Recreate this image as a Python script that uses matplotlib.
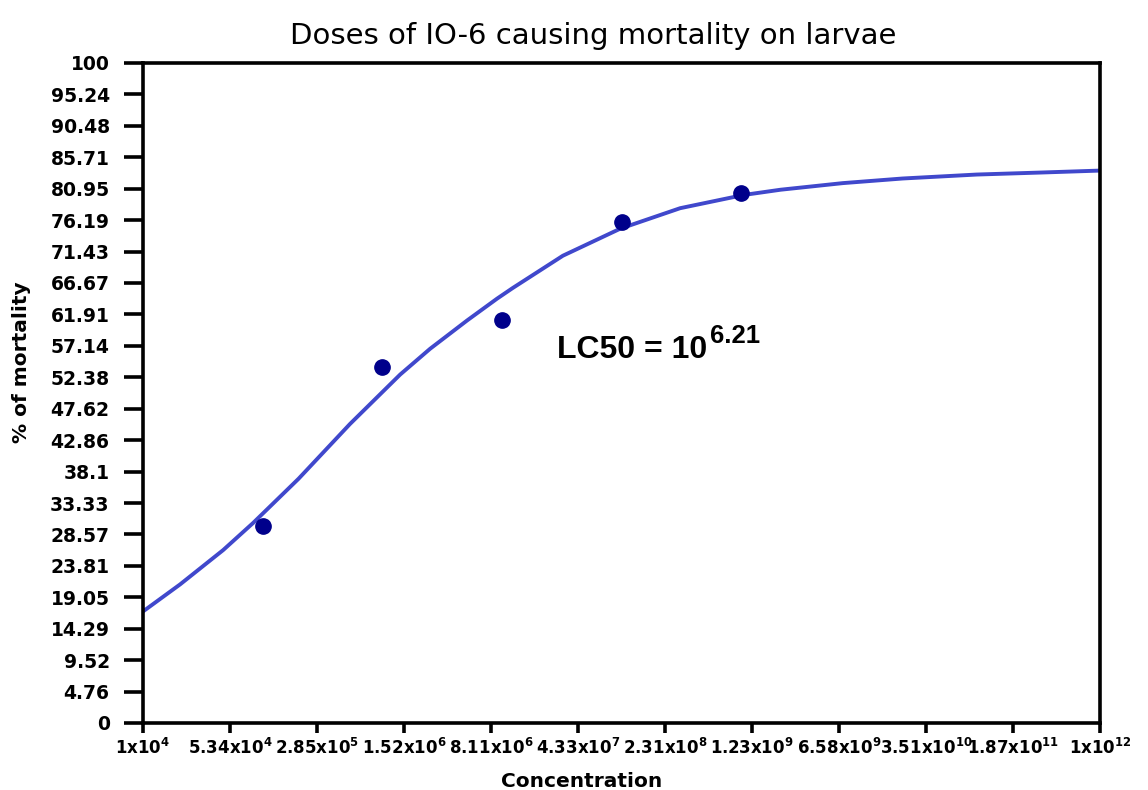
import numpy as np
import matplotlib
matplotlib.use("Agg")
import matplotlib.pyplot as plt
from matplotlib.ticker import NullLocator

# observed mortality (%) at each concentration
conc = [1e5, 1e6, 1e7, 1e8, 1e9]
mortality = [29.8, 53.9, 61.1, 75.9, 80.3]

# fitted dose-response curve (log10 of concentration)
curve_log_conc = [4.00, 4.31, 4.67, 4.92, 5.30, 5.73, 6.15, 6.40, 6.71, 6.96,
                  7.09, 7.51, 7.99, 8.49, 9.02, 9.33, 9.85, 10.35, 10.97, 11.50, 12.00]
curve_mortality = [16.9, 21.0, 26.2, 30.3, 37.0, 45.3, 52.8, 56.7, 61.0, 64.3,
                   65.9, 70.8, 74.9, 78.0, 80.0, 80.8, 81.8, 82.5, 83.1, 83.4, 83.7]

# axis ticks
x_mant = ['1', '5.34', '2.85', '1.52', '8.11', '4.33', '2.31', '1.23', '6.58', '3.51', '1.87', '1']
x_exp = [4, 4, 5, 6, 6, 7, 8, 9, 9, 10, 11, 12]
y_ticks = ['0', '4.76', '9.52', '14.29', '19.05', '23.81', '28.57', '33.33', '38.1', '42.86',
           '47.62', '52.38', '57.14', '61.91', '66.67', '71.43', '76.19', '80.95', '85.71',
           '90.48', '95.24', '100']

fig = plt.figure(figsize=(11.48, 7.90), dpi=100)
ax = fig.add_axes([143 / 1148, 67 / 790, 957 / 1148, 660 / 790])

curve_x = np.power(10.0, curve_log_conc)
ax.plot(curve_x, curve_mortality, color='#4048CC', lw=2.8, zorder=2,
        solid_joinstyle='round')
ax.plot(conc, mortality, 'o', color='#00008B', ms=11, zorder=3)

ax.set_xscale('log')
ax.set_xlim(1e4, 1e12)
ax.set_ylim(0, 100)

xt = [float(m) * 10.0 ** e for m, e in zip(x_mant, x_exp)]
ax.set_xticks(xt)
ax.set_xticklabels([m + r'x10$^{\mathbf{%d}}$' % e for m, e in zip(x_mant, x_exp)],
                   fontsize=12, fontweight='bold')
ax.xaxis.set_minor_locator(NullLocator())
ax.set_yticks([float(v) for v in y_ticks])
ax.set_yticklabels(y_ticks, fontsize=13.5, fontweight='bold')

ax.tick_params(axis='x', length=7, width=2.6, pad=4)
ax.tick_params(axis='y', length=14, width=2.6, pad=10)
for s in ax.spines.values():
    s.set_linewidth(2.6)

ax.set_ylabel('% of mortality', fontsize=14.5, fontweight='bold')
ax.yaxis.set_label_coords(-0.117, 0.547)

fig.text(582 / 1148, 3 / 790, 'Concentration', ha='center', va='baseline',
         fontsize=14.5, fontweight='bold')
fig.text(593 / 1148, 1 - 44 / 790, 'Doses of IO-6 causing mortality on larvae',
         ha='center', va='baseline', fontsize=21)

lc = ax.text(0.4326, 0.553, 'LC50 = 10', transform=ax.transAxes, ha='left', va='baseline',
             fontsize=23, fontweight='bold', family='Liberation Sans')
ax.annotate('6.21', xy=(1.0, 1.0), xycoords=lc, xytext=(2, 8), textcoords='offset points',
            ha='left', va='top', fontsize=18.5, fontweight='bold', family='Liberation Sans')

fig.savefig('out.png', dpi=100)
